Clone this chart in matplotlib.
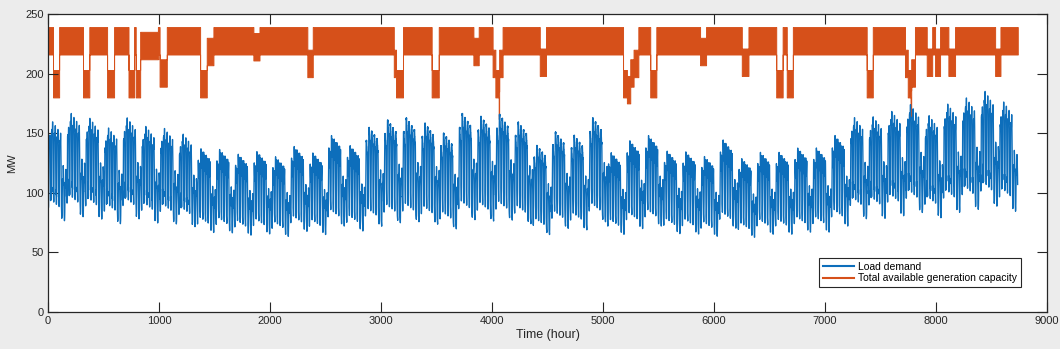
import numpy as np
import matplotlib
matplotlib.use('Agg')
import matplotlib.pyplot as plt
from matplotlib.lines import Line2D

plt.rcParams['font.family'] = ['Liberation Sans', 'DejaVu Sans']

# ---------------- data ----------------
# weekly peak load (MW), 52 weeks
week_peak = [159.5, 166.5, 162.4, 154.3, 162.8, 155.6, 153.9, 149.1, 136.9, 136.3,
             132.3, 134.5, 130.2, 138.8, 133.4, 148.0, 139.5, 154.8, 161.0, 162.8,
             158.4, 150.0, 166.5, 164.1, 165.8, 159.3, 139.7, 151.0, 148.2, 162.8,
             133.6, 143.6, 148.0, 134.9, 134.3, 130.4, 144.3, 128.6, 133.9, 133.9,
             137.5, 137.6, 148.0, 163.0, 163.7, 168.2, 173.9, 164.7, 174.3, 179.5,
             185.0, 176.1]

# daily peak in % of weekly peak (Mon..Sun)
day_pct = [93, 100, 98, 96, 94, 77, 75]

# hourly load in % of daily peak
winter_wkdy = [67, 63, 60, 59, 59, 60, 74, 86, 95, 96, 96, 95, 95, 95, 93, 94, 99, 100, 100, 96, 91, 83, 73, 63]
winter_wknd = [78, 72, 68, 66, 64, 65, 66, 70, 80, 88, 90, 91, 90, 88, 87, 87, 91, 100, 99, 97, 94, 92, 87, 81]
summer_wkdy = [64, 60, 58, 56, 56, 58, 64, 76, 87, 95, 99, 100, 99, 100, 100, 97, 96, 96, 93, 92, 92, 93, 87, 72]
summer_wknd = [74, 70, 66, 65, 64, 62, 62, 66, 81, 86, 91, 93, 93, 92, 91, 91, 92, 94, 95, 95, 100, 93, 88, 80]
sprfall_wkdy = [63, 62, 60, 58, 59, 65, 72, 85, 95, 99, 100, 99, 93, 92, 90, 88, 90, 92, 96, 98, 96, 90, 80, 70]
sprfall_wknd = [75, 73, 69, 66, 65, 65, 68, 74, 83, 89, 92, 94, 91, 90, 90, 86, 85, 88, 92, 100, 97, 95, 90, 85]

# generation capacity: normal band and outage periods (hour start, hour end, band bottom MW)
cap_full = 239
small_unit = 23
outage_start = [45, 315, 532, 725, 790, 830, 1005, 1370, 1430, 1850, 2336, 3115, 3135, 3456,
                3832, 4005, 4030, 4060, 4064, 4430, 5180, 5215, 5245, 5275, 5425, 5874,
                6250, 6560, 6655, 7375, 7720, 7745, 7770, 7776, 7916, 7991, 8111, 8532]
outage_end = [100, 372, 595, 775, 830, 990, 1070, 1430, 1490, 1905, 2385, 3135, 3198, 3520,
              3880, 4030, 4060, 4064, 4095, 4486, 5215, 5245, 5275, 5318, 5480, 5928,
              6310, 6618, 6710, 7430, 7745, 7770, 7776, 7810, 7965, 8036, 8171, 8580]
outage_low = [180, 180, 180, 180, 180, 212, 189, 180, 207, 211, 197, 197, 180, 180,
              207, 197, 180, 162, 197, 198, 180, 175, 189, 197, 180, 207,
              198, 180, 180, 180, 197, 180, 163, 189, 198, 198, 198, 198]

# ---------------- build hourly series ----------------
load = []
for w, peak in enumerate(week_peak):
    wk = w + 1
    if wk <= 8 or wk >= 44:
        prof = (winter_wkdy, winter_wknd)
    elif 18 <= wk <= 30:
        prof = (summer_wkdy, summer_wknd)
    else:
        prof = (sprfall_wkdy, sprfall_wknd)
    for d in range(7):
        hp = prof[0] if d < 5 else prof[1]
        for h in range(24):
            load.append(peak * day_pct[d] / 100 * hp[h] / 100)
load = np.array(load)
hours = np.arange(len(load))

band_low = np.full(len(load) + 1, cap_full - small_unit, dtype=float)
for s, e, lo in zip(outage_start, outage_end, outage_low):
    band_low[s:e] = lo
band_high = band_low + small_unit
band_x = np.arange(len(band_low))

# ---------------- plot ----------------
blue = '#0D6EBB'
red = '#D6501A'

fig = plt.figure(figsize=(10.6, 3.49), dpi=100, facecolor='#ececec')
ax = fig.add_axes([0.0453, 0.106, 0.9425, 0.854])

ax.plot(hours, load, color=blue, linewidth=0.95)
ax.fill_between(band_x, band_low, band_high, step='post',
                facecolor=red, edgecolor=red, linewidth=0.7)

ax.set_xlim(0, 9000)
ax.set_ylim(0, 250)
ax.set_xticks(np.arange(0, 9001, 1000))
ax.set_yticks(np.arange(0, 251, 50))
ax.tick_params(direction='in', length=7, width=0.8, top=True, right=True,
               labelsize=8, colors='#262626', pad=3)
for sp in ax.spines.values():
    sp.set_color('#262626')
    sp.set_linewidth(0.9)

ax.set_xlabel('Time (hour)', fontsize=9, color='#262626', labelpad=2)
ax.set_ylabel('MW', fontsize=8, color='#262626', labelpad=6)

handles = [Line2D([], [], color=blue, linewidth=1.5),
           Line2D([], [], color=red, linewidth=1.5)]
leg = ax.legend(handles, ['Load demand', 'Total available generation capacity'],
                loc='lower right', bbox_to_anchor=(0.979, 0.066), fontsize=7.5,
                fancybox=False, framealpha=1, edgecolor='#262626',
                handlelength=3.0, borderpad=0.35, labelspacing=0.15, handletextpad=0.4)
leg.get_frame().set_linewidth(0.8)

fig.savefig('out.png', dpi=100, facecolor=fig.get_facecolor())
